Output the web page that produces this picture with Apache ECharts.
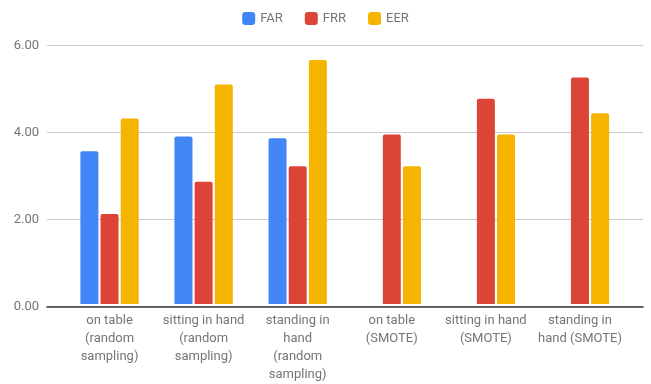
<!DOCTYPE html>
<html>
<head>
<meta charset="utf-8">
<script src="https://cdn.jsdelivr.net/npm/echarts@6/dist/echarts.min.js"></script>
<style>
  html, body { margin: 0; padding: 0; background: #fff; }
  #chart { width: 651px; height: 384px; }
</style>
</head>
<body>
<div id="chart"></div>
<script>
// Error rates (%) per device position and sampling method
var categories = [
  'on table\n(random\nsampling)',
  'sitting in hand\n(random\nsampling)',
  'standing in\nhand\n(random\nsampling)',
  'on table\n(SMOTE)',
  'sitting in hand\n(SMOTE)',
  'standing in\nhand (SMOTE)'
];
var farValues = [3.55, 3.89, 3.85, null, null, null];
var frrValues = [2.09, 2.84, 3.20, 3.94, 4.77, 5.26];
var eerValues = [4.31, 5.10, 5.67, 3.20, 3.94, 4.43];
var yTicks = [0, 2, 4, 6];

var textColor = '#757575';
var font = 'Roboto, "Noto Sans", sans-serif';

function barSeries(name, color, values) {
  return {
    name: name,
    type: 'bar',
    xAxisIndex: 1,
    yAxisIndex: 1,
    data: values,
    barWidth: 18,
    barGap: '12%',
    itemStyle: { color: color, borderRadius: [2, 2, 0, 0] },
    emphasis: { disabled: true }
  };
}

var chart = echarts.init(document.getElementById('chart'), null, { renderer: 'canvas' });
chart.setOption({
  animation: false,
  color: ['#4285F4', '#DB4437', '#F4B400'],
  legend: {
    top: 7,
    left: 'center',
    itemWidth: 13,
    itemHeight: 13,
    itemGap: 22,
    icon: 'roundRect',
    textStyle: { color: textColor, fontSize: 13, fontFamily: font },
    data: ['FAR', 'FRR', 'EER']
  },
  grid: [
    // frame grid: y labels, gridlines and baseline
    { left: 47, width: 596, top: 45.7, bottom: 77.3 },
    // bar grid: narrower span for the category groups
    { left: 62.5, width: 564.5, top: 45.7, bottom: 77.3 }
  ],
  xAxis: [
    {
      gridIndex: 0,
      type: 'value',
      min: 0, max: 1,
      axisLine: { show: true, onZero: false, lineStyle: { color: '#333', width: 1.5 } },
      axisTick: { show: false },
      axisLabel: { show: false },
      splitLine: { show: false }
    },
    {
      gridIndex: 1,
      type: 'category',
      data: categories,
      axisLine: { show: false },
      axisTick: { show: false },
      axisLabel: {
        color: textColor,
        fontSize: 13,
        fontFamily: font,
        lineHeight: 18,
        margin: 8,
        interval: 0,
        align: 'center'
      }
    }
  ],
  yAxis: [
    {
      gridIndex: 0,
      type: 'value',
      min: 0, max: 6, interval: 2,
      axisLine: { show: false },
      axisTick: { show: false },
      axisLabel: {
        color: textColor,
        fontSize: 13,
        fontFamily: font,
        margin: 8,
        formatter: function (v) { return yTicks.indexOf(v) >= 0 ? v.toFixed(2) : ''; }
      },
      splitLine: { lineStyle: { color: '#cccccc', width: 1 } }
    },
    {
      gridIndex: 1,
      type: 'value',
      min: 0, max: 6, interval: 2,
      show: false,
      splitLine: { show: false }
    }
  ],
  series: [
    barSeries('FAR', '#4285F4', farValues),
    barSeries('FRR', '#DB4437', frrValues),
    barSeries('EER', '#F4B400', eerValues)
  ]
});
</script>
</body>
</html>
